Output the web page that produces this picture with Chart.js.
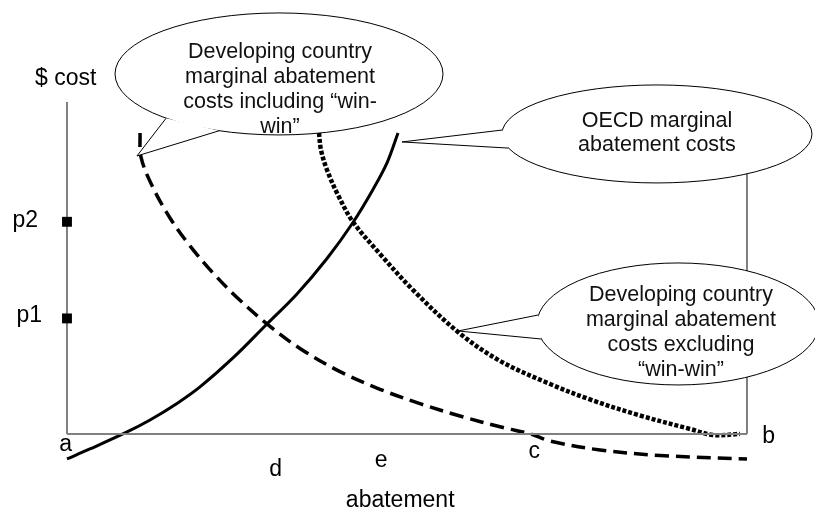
<!DOCTYPE html>
<html>
<head>
<meta charset="utf-8">
<script src="https://cdn.jsdelivr.net/npm/chart.js@4/dist/chart.umd.min.js"></script>
<style>
	html, body { margin: 0; padding: 0; background: #fff; }
	#wrap { width: 815px; height: 510px; }
</style>
</head>
<body>
<div id="wrap"><canvas id="macChart" width="815" height="510"></canvas></div>
<script>
/* ── 데이터 : x = abatement, y = $ cost ── */
var oecdX   = [0, 3.38, 8.53, 12.21, 16.18, 19.56, 24.41, 29.41, 33.82, 38.24, 42.06, 45.0, 47.06, 48.68];
var oecdY   = [-7.53, -4.52, 0.30, 4.22, 9.19, 14.16, 22.89, 33.13, 42.17, 52.86, 63.70, 73.64, 81.63, 90.66];

var inclX   = [10.74, 10.88, 12.5, 15.15, 18.09, 21.47, 25.0, 29.41, 34.26, 40.15, 46.03, 51.91, 57.79, 64.12, 68.09, 71.03, 78.38, 87.21, 100];
var inclY   = [90.66, 83.43, 74.82, 65.06, 56.63, 48.49, 41.11, 33.13, 25.75, 18.77, 13.46, 9.13, 5.42, 1.93, 0.06, -2.11, -4.82, -6.48, -7.53];

var exclX   = [37.06, 37.35, 38.24, 39.85, 42.06, 46.03, 50.88, 57.5, 63.68, 71.03, 76.91, 84.26, 91.62, 95.0, 98.97];
var exclY   = [90.66, 85.54, 79.52, 71.99, 63.86, 54.22, 43.37, 30.72, 21.99, 15.06, 10.39, 5.57, 1.51, -0.30, 0];

var axisMax     = 100;   // 축 길이
var frameTop    = 85;    // 오른쪽 세로선 끝

var priceLabels = ['p1', 'p2'];
var priceValues = [34.8, 63.9];

var abateLabels = ['a', 'd', 'e', 'c', 'b'];
var abateValues = [-0.2, 30.7, 46.2, 68.7, 103.2];

function pairs(xs, ys) {
	return xs.map(function(x, i) { return { x: x, y: ys[i] }; });
}

/* ── 라벨 / 말풍선 배치 (픽셀 오프셋) ── */
var abateDrop = [17, 42, 33, 24, 9];
var FONT = '"Liberation Sans", Arial, sans-serif';

var callouts = [
	{ cx: 31.18, cy: 108.43, rx: 164, ry: 61, tipX: 10.29, tipY: 83.73, a1: 133.5, a2: 111.4, dx: 1,
	  lines: ['Developing country', 'marginal abatement', 'costs including \u201Cwin-', 'win\u201D'], offs: [-16, 9, 34, 59] },
	{ cx: 86.76, cy: 90.36, rx: 155, ry: 49, tipX: 49.26, tipY: 87.95, a1: 184.6, a2: 163.2, dx: 0,
	  lines: ['OECD marginal', 'abatement costs'], offs: [-7, 17] },
	{ cx: 89.85, cy: 33.13, rx: 141, ry: 61, tipX: 57.5, tipY: 31.02, a1: 188.5, a2: 165.7, dx: 3,
	  lines: ['Developing country', 'marginal abatement', 'costs excluding', '\u201Cwin-win\u201D'], offs: [-23, 2, 27, 52] }
];

var notesPlugin = {
	id: 'notes',
	afterDatasetsDraw: function(chart) {
		var ctx = chart.ctx;
		var xs = chart.scales.x, ys = chart.scales.y;
		var px = function(v) { return xs.getPixelForValue(v); };
		var py = function(v) { return ys.getPixelForValue(v); };

		ctx.save();
		callouts.forEach(function(c) {
			var cx = px(c.cx), cy = py(c.cy);
			var b1 = { x: cx + c.rx * Math.cos(c.a1 * Math.PI / 180), y: cy + c.ry * Math.sin(c.a1 * Math.PI / 180) };
			var b2 = { x: cx + c.rx * Math.cos(c.a2 * Math.PI / 180), y: cy + c.ry * Math.sin(c.a2 * Math.PI / 180) };
			var tip = { x: px(c.tipX), y: py(c.tipY) };

			ctx.beginPath();
			ctx.ellipse(cx, cy, c.rx, c.ry, 0, 0, Math.PI * 2);
			ctx.fillStyle = '#fff';
			ctx.fill();
			ctx.lineWidth = 1;
			ctx.strokeStyle = '#000';
			ctx.stroke();

			ctx.beginPath();
			ctx.moveTo(b1.x, b1.y);
			ctx.lineTo(tip.x, tip.y);
			ctx.lineTo(b2.x, b2.y);
			ctx.closePath();
			ctx.fillStyle = '#fff';
			ctx.fill();
			ctx.beginPath();
			ctx.moveTo(b1.x, b1.y);
			ctx.lineTo(tip.x, tip.y);
			ctx.lineTo(b2.x, b2.y);
			ctx.stroke();

			ctx.fillStyle = '#111';
			ctx.font = '21.5px ' + FONT;
			ctx.textAlign = 'center';
			ctx.textBaseline = 'alphabetic';
			c.lines.forEach(function(t, i) {
				ctx.fillText(t, cx + c.dx, cy + c.offs[i]);
			});
		});

		/* 축 라벨 */
		ctx.fillStyle = '#000';
		ctx.font = '23px ' + FONT;
		ctx.textAlign = 'left';
		ctx.fillText('$ cost', px(0) - 32, py(axisMax) - 17);

		ctx.textAlign = 'right';
		priceLabels.forEach(function(t, i) {
			ctx.fillText(t, px(0) - (i === 0 ? 25 : 29), py(priceValues[i]) + (i === 0 ? 4 : 5));
		});

		ctx.textAlign = 'center';
		abateLabels.forEach(function(t, i) {
			ctx.fillText(t, px(abateValues[i]), py(0) + abateDrop[i]);
		});
		ctx.fillText('abatement', px(49), py(0) + 73);
		ctx.restore();
	}
};

var ctx = document.getElementById('macChart').getContext('2d');
new Chart(ctx, {
	type: 'scatter',
	data: {
		datasets: [
			{ label: 'price', data: pairs([0, 0], priceValues), order: -1, showLine: false, pointStyle: 'rect', pointRadius: 7, pointBorderWidth: 0, backgroundColor: '#000', borderColor: '#000' },
			{ data: pairs([0, 0], [0, axisMax]), showLine: true, borderColor: '#808080', borderWidth: 2, pointRadius: 0, tension: 0 },
			{ data: pairs([0, axisMax], [0, 0]), showLine: true, borderColor: '#808080', borderWidth: 2, pointRadius: 0, tension: 0 },
			{ data: pairs([axisMax, axisMax], [0, frameTop]), showLine: true, borderColor: '#000', borderWidth: 1, pointRadius: 0, tension: 0 },
			{ label: 'OECD', data: pairs(oecdX, oecdY), showLine: true, borderColor: '#000', borderWidth: 3, pointRadius: 0, tension: 0.35 },
			{ label: 'incl', data: pairs(inclX, inclY), showLine: true, borderColor: '#000', borderWidth: 3.5, borderDash: [14, 7], pointRadius: 0, tension: 0.35 },
			{ label: 'excl', data: pairs(exclX, exclY), showLine: true, borderColor: '#000', borderWidth: 4.5, borderDash: [4, 2], pointRadius: 0, tension: 0.35 }
		]
	},
	options: {
		responsive: false,
		animation: false,
		layout: { padding: 0, autoPadding: false },
		plugins: { legend: { display: false }, tooltip: { enabled: false } },
		scales: {
			x: { type: 'linear', display: false, min: -9.85, max: 110 },
			y: { type: 'linear', display: false, min: -22.9, max: 130.7 }
		}
	},
	plugins: [notesPlugin]
});
</script>
</body>
</html>
